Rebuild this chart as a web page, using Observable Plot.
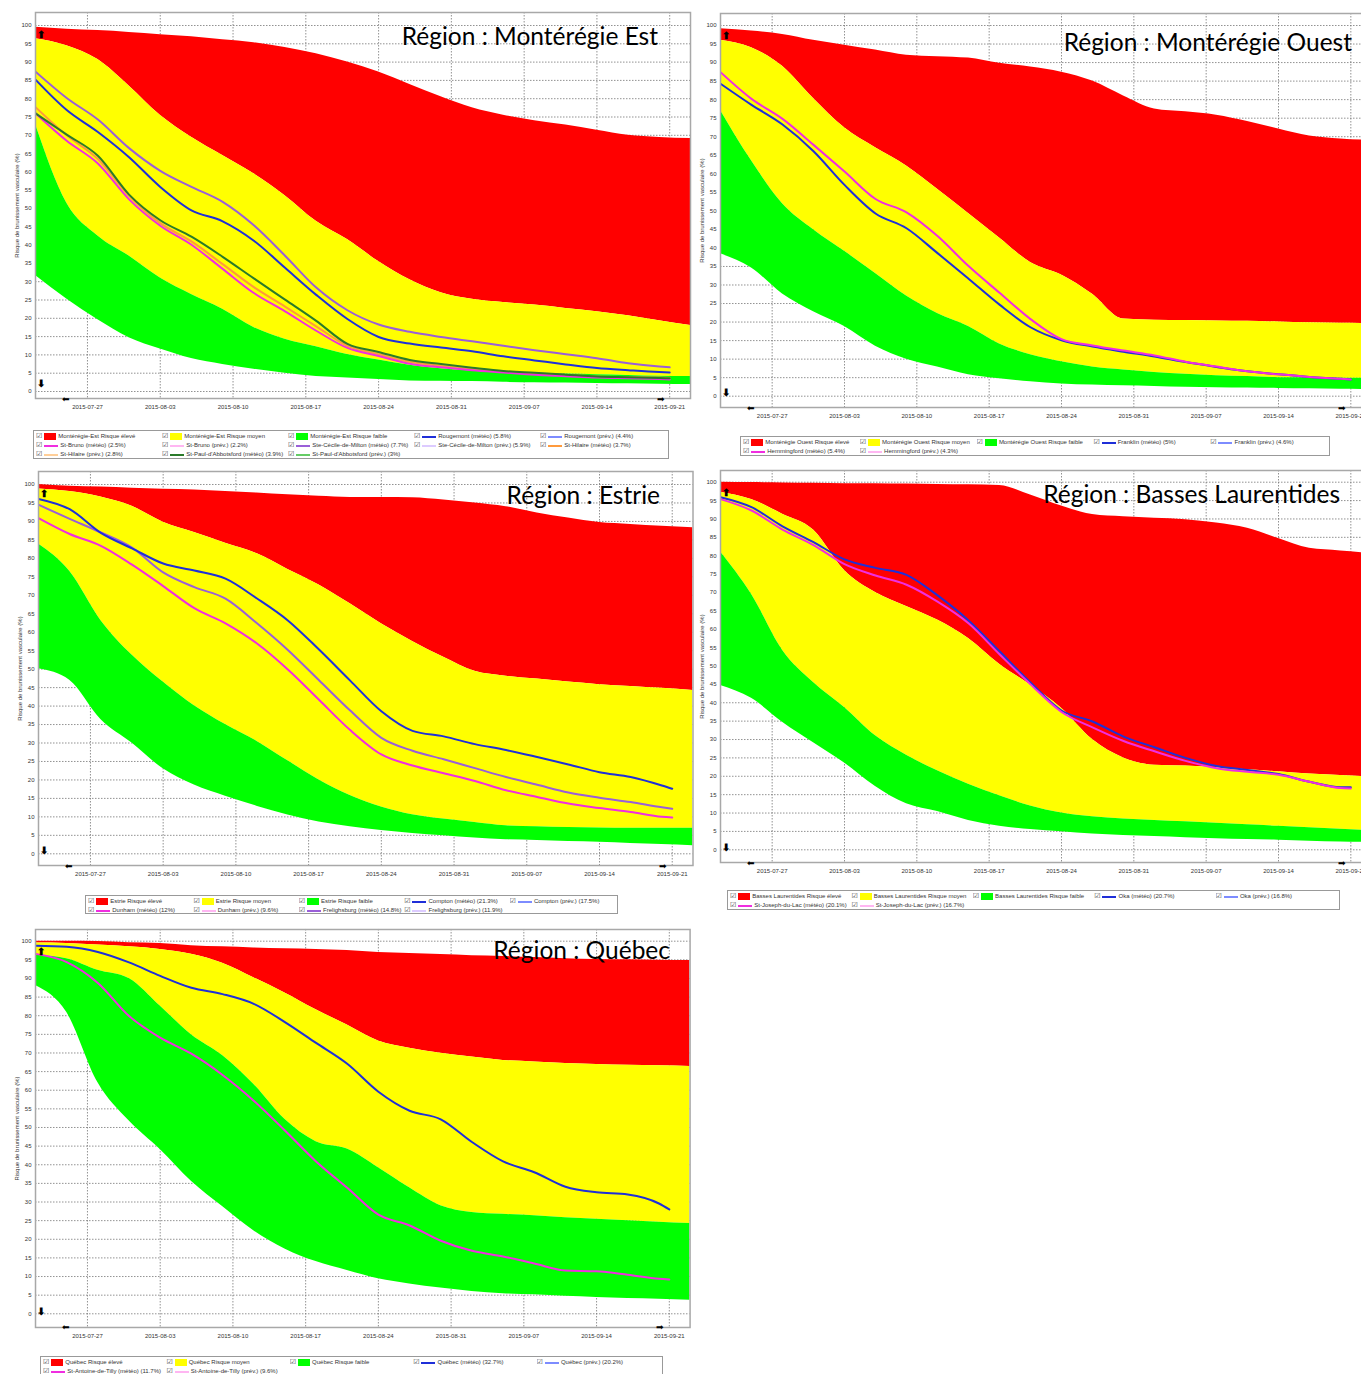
<!DOCTYPE html>
<html><head><meta charset="utf-8">
<script src="https://cdn.jsdelivr.net/npm/d3@7"></script>
<script src="https://cdn.jsdelivr.net/npm/@observablehq/plot@0.6"></script>
<style>
body{margin:0;background:#fff;}
#root{position:relative;width:1361px;height:1374px;overflow:hidden;background:#fff;font-family:"Liberation Sans",Arial,sans-serif;}
.title{position:absolute;font-family:Lato,"Open Sans",sans-serif;font-size:24.5px;line-height:28px;color:#000;white-space:nowrap;}
.legend{position:absolute;border:1px solid #999;box-sizing:border-box;display:grid;grid-template-columns:repeat(5,1fr);font-size:6px;line-height:9px;color:#333;padding:1px 2px;background:#fff;}
.item{display:flex;align-items:center;white-space:nowrap;overflow:hidden;height:9px;}
.chk{font-family:"DejaVu Sans";font-size:7px;margin-right:2px;color:#444}
.sw{display:inline-block;width:12px;height:7px;margin-right:2px}
.ln{display:inline-block;width:14px;height:2px;margin-right:2px}
</style></head><body><div id="root"></div><script>
// ---------- shared axes ----------
const areaDates = ["2015-07-22","2015-07-25","2015-07-28","2015-07-31","2015-08-03","2015-08-06","2015-08-09","2015-08-12","2015-08-15","2015-08-18","2015-08-21","2015-08-24","2015-08-27","2015-08-30","2015-09-02","2015-09-05","2015-09-08","2015-09-11","2015-09-14","2015-09-17","2015-09-20","2015-09-23"];
const lineDates = ["2015-07-22","2015-07-25","2015-07-28","2015-07-31","2015-08-03","2015-08-06","2015-08-09","2015-08-12","2015-08-15","2015-08-18","2015-08-21","2015-08-24","2015-08-27","2015-08-30","2015-09-02","2015-09-05","2015-09-08","2015-09-11","2015-09-14","2015-09-17","2015-09-20","2015-09-21"];
const xTickLabels = ["2015-07-27","2015-08-03","2015-08-10","2015-08-17","2015-08-24","2015-08-31","2015-09-07","2015-09-14","2015-09-21"];
const yTickValues = [0,5,10,15,20,25,30,35,40,45,50,55,60,65,70,75,80,85,90,95,100];
const yAxisLabel = "Risque de brunissement vasculaire (%)";

// ---------- Montérégie Est ----------
const estRedTop = [99.5,99.0,98.6,98.1,97.5,96.9,96.1,95.3,94.0,92.3,90.0,87.3,83.9,80.5,77.5,75.5,74.0,72.8,71.4,70.0,69.4,69.1];
const estYellowTop = [96.4,94.5,90.7,83.5,75.5,69.5,64.5,59.5,53.5,46.5,41.5,35.5,30.5,27.0,25.2,24.3,23.6,22.7,21.8,20.7,19.3,18.0];
const estGreenTop = [73,51.5,42.5,37,31,26.5,22.5,17.5,14.3,12.2,10.1,8.6,7.2,6.2,5.6,5.2,5.0,4.8,4.6,4.4,4.2,4.1];
const estGreenBottom = [31.7,25.3,19.6,14.7,11.6,9.0,7.4,6.1,5.0,4.1,3.7,3.3,2.9,2.8,2.7,2.5,2.4,2.3,2.2,2.1,2.0,1.9];
const estRougemont = [85.2,76.9,70.9,64.0,55.9,49.5,46.5,41.2,33.8,26.4,19.8,14.9,13.1,12.0,11.0,9.6,8.5,7.4,6.4,5.8,5.3,5.2];
const estSteCecile = [87.4,80.2,74.3,66.5,60.3,55.9,51.8,45.4,37.1,28.4,22.2,18.3,16.3,14.9,13.7,12.5,11.3,10.2,9.1,7.7,6.8,6.6];
const estStPaul = [76,70.2,64.4,53.8,46.8,42.3,36.8,30.9,25.1,19.3,13.0,10.8,8.6,7.5,6.5,5.6,5.1,4.6,4.1,3.9,3.7,3.6];
const estStBruno = [76,68.5,62.3,52.5,45.3,40.1,33.5,26.9,21.9,16.6,11.9,9.7,7.6,6.6,5.8,5.2,4.6,4.2,3.8,3.6,3.4,3.3];
const estStHilaire = [77.7,70.0,63.5,53.5,46.0,41.0,34.8,28.5,23.2,17.8,12.5,10.2,8.1,7.0,6.1,5.4,4.9,4.5,4.1,3.9,3.8,3.7];
const estLegend = ["Montérégie-Est Risque élevé","Montérégie-Est Risque moyen","Montérégie-Est Risque faible","Rougemont (météo) (5.8%)","Rougemont (prév.) (4.4%)","St-Bruno (météo) (2.5%)","St-Bruno (prév.) (2.2%)","Ste-Cécile-de-Milton (météo) (7.7%)","Ste-Cécile-de-Milton (prév.) (5.9%)","St-Hilaire (météo) (3.7%)","St-Hilaire (prév.) (2.8%)","St-Paul-d'Abbotsford (météo) (3.9%)","St-Paul-d'Abbotsford (prév.) (3%)"];

// ---------- Montérégie Ouest ----------
const ouestRedTop = [99.1,98.5,97.6,96.0,94.7,93.4,92.0,91.6,91.2,89.8,88.8,87.4,85.0,81.0,77.5,76.7,75.8,74.1,72.1,70.2,69.4,69.0];
const ouestYellowTop = [96,94.0,89.0,80.3,72.4,67.0,62.1,55.8,49.3,42.7,36.1,32.7,27.5,20.8,20.5,20.4,20.3,20.2,20.0,19.8,19.7,19.6];
const ouestGreenTop = [77.1,63.5,51.9,44.9,39.1,33.1,27.0,22.3,18.8,14.1,11.2,9.3,7.9,7.1,6.4,5.9,5.5,5.3,5.0,4.95,4.85,4.8];
const ouestGreenBottom = [38.4,34.6,27.6,22.8,18.8,13.5,10.0,7.9,5.8,4.7,3.9,3.3,3.0,2.8,2.6,2.4,2.3,2.2,2.1,2.0,1.9,1.8];
const ouestFranklin = [84.3,78.6,73.3,66.1,57.0,49.3,45.3,38.6,31.7,24.7,18.6,15.1,13.4,12.0,10.7,9.2,7.9,6.7,5.9,5.2,4.7,4.5];
const ouestHemmingford = [87.4,80.2,74.8,67.8,60.6,53.2,49.6,43.2,35.1,27.9,20.8,15.4,13.7,12.3,11.0,9.3,8.0,6.7,5.9,5.2,4.7,4.5];
const ouestLegend = ["Montérégie Ouest Risque élevé","Montérégie Ouest Risque moyen","Montérégie Ouest Risque faible","Franklin (météo) (5%)","Franklin (prév.) (4.6%)","Hemmingford (météo) (5.4%)","Hemmingford (prév.) (4.3%)"];

// ---------- Estrie ----------
const estrieRedTop = [100,99.5,99.3,99.0,98.7,98.5,98.1,97.7,97.2,96.8,96.5,96.5,96.4,95.8,95.0,94.0,92.3,90.9,89.7,89.2,88.7,88.3];
const estrieYellowTop = [98.8,98.1,96.6,94.1,89.8,87.0,84.1,81.3,77.0,72.8,67.7,62.3,57.5,53.2,49.4,48.1,47.3,46.5,45.8,45.3,44.8,44.2];
const estrieGreenTop = [83.9,76.5,63.2,53.8,46.5,40.1,35.0,30.5,25.2,20.0,15.8,12.7,10.6,9.4,8.5,7.6,7.3,7.1,7.0,6.9,6.9,6.9];
const estrieGreenBottom = [50.1,47.0,36.4,30.0,23.0,18.6,15.6,12.9,10.5,8.6,7.3,6.3,5.5,4.9,4.3,3.8,3.6,3.3,3.1,2.8,2.5,2.2];
const estrieCompton = [96.1,93.3,86.9,82.7,78.6,76.7,74.5,69.2,63.2,55.3,46.9,38.6,33.3,31.8,29.7,28.1,26.2,24.2,22.1,20.8,18.5,17.6];
const estrieFrelighsburg = [94.5,90.7,87.0,82.9,76.2,72.2,69.1,62.5,55.2,47.0,38.8,31.4,27.9,25.6,23.2,20.8,18.7,16.6,15.2,14.0,12.6,12.2];
const estrieDunham = [90.9,86.6,83.4,78.3,72.5,66.5,62.4,57.0,49.9,41.7,33.5,26.9,23.9,21.8,19.7,17.2,15.4,13.6,12.4,11.3,10.0,9.8];
const estrieLegend = ["Estrie Risque élevé","Estrie Risque moyen","Estrie Risque faible","Compton (météo) (21.3%)","Compton (prév.) (17.5%)","Dunham (météo) (12%)","Dunham (prév.) (9.6%)","Frelighsburg (météo) (14.8%)","Frelighsburg (prév.) (11.9%)"];

// ---------- Basses Laurentides ----------
const lauRedTop = [100,99.9,99.8,99.7,99.6,99.6,99.5,99.4,99.3,99.1,96.5,93.5,91.2,90.6,90.2,89.8,88.9,87.5,84.7,82.0,81.3,80.6];
const lauYellowTop = [97.3,95.3,91.3,87.0,76.0,70.0,66.2,62.5,57.5,50.5,44.8,38.5,30.0,25.0,23.0,22.8,22.3,21.8,21.2,20.6,20.2,19.8];
const lauGreenTop = [81,69.5,54.3,45.5,38.7,31.0,25.7,21.5,17.8,14.7,11.9,10.0,9.0,8.4,8.0,7.6,7.2,6.8,6.4,6.0,5.6,5.2];
const lauGreenBottom = [44.7,41.2,34.7,29.1,23.6,17.2,12.5,10.4,8.0,6.4,5.5,4.9,4.3,3.9,3.6,3.3,3.0,2.8,2.6,2.3,2.1,2.0];
const lauOka = [95.9,93.2,88.0,83.7,79.0,76.7,74.8,69.2,62.4,54.0,45.5,37.9,34.9,30.8,27.9,25.0,22.8,21.7,20.6,18.5,17.0,17.0];
const lauStJoseph = [95.4,92.3,87.1,82.9,77.7,74.6,72.1,67.5,61.6,53.2,45.0,37.5,33.3,29.6,26.8,24.2,22.2,21.2,20.4,18.5,16.8,16.7];
const lauLegend = ["Basses Laurentides Risque élevé","Basses Laurentides Risque moyen","Basses Laurentides Risque faible","Oka (météo) (20.7%)","Oka (prév.) (16.8%)","St-Joseph-du-Lac (météo) (20.1%)","St-Joseph-du-Lac (prév.) (16.7%)"];

// ---------- Québec ----------
const qcRedTop = [100,100,99.9,99.6,99.4,98.8,98.5,98.2,98.0,97.8,97.5,97.0,96.7,96.4,96.1,95.9,95.6,95.3,95.1,95.0,94.9,94.8];
const qcYellowTop = [99.5,99.4,99.0,98.5,97.8,96.5,94.1,90.2,86.1,81.6,77.5,73.2,71.3,69.9,68.9,68.0,67.6,67.2,66.9,66.7,66.6,66.4];
const qcGreenTop = [96.2,95.3,92.2,90.0,82.6,74.9,69.3,61.6,52.2,46.2,44.2,39.2,33.8,29.0,27.2,26.7,26.3,25.8,25.4,25.0,24.6,24.2];
const qcGreenBottom = [88.1,80.9,62.1,51.8,44.1,35.6,28.8,22.3,17.4,14.0,11.6,9.4,8.0,6.9,6.0,5.4,5.1,4.7,4.4,4.1,3.9,3.6];
const qcQuebec = [98.8,98.5,97.1,94.3,90.7,87.5,85.8,83.2,78.3,72.7,67.1,59.6,54.5,52.2,46.1,40.9,38.0,34.1,32.6,32.0,29.6,28.0];
const qcStAntoine = [96.6,94.4,88.8,79.9,74.1,69.8,64.1,57.2,49.2,40.9,33.8,26.6,23.7,19.6,16.9,15.4,13.5,11.6,11.4,10.5,9.4,9.2];
const qcLegend = ["Québec Risque élevé","Québec Risque moyen","Québec Risque faible","Québec (météo) (32.7%)","Québec (prév.) (20.2%)","St-Antoine-de-Tilly (météo) (11.7%)","St-Antoine-de-Tilly (prév.) (9.6%)"];

// ---------- styles ----------
const C = {red:"#ff0000", yellow:"#ffff00", green:"#00ff00", blue:"#1f2fd8", lblue:"#7d8cff", mag:"#f02ee0", lmag:"#ffb6f2", purple:"#9a5fd8", lpurple:"#dccbff", orange:"#ff9a3c", lorange:"#ffcf99", dgreen:"#2a7a2a", lgreen:"#66cc66"};

const panels = [
  {title:"Région : Montérégie Est", L:{x0:35,x1:690,yTop:12,yBottom:398,y100:25,y0:391},
   titlePos:{right:658, cy:36}, legendPos:{left:33,top:430,width:636,height:29},
   bands:[estRedTop,estYellowTop,estGreenTop,estGreenBottom],
   lines:[[estStHilaire,C.orange],[estStBruno,C.mag],[estStPaul,C.dgreen],[estSteCecile,C.purple],[estRougemont,C.blue]],
   legend:estLegend, legendColors:[C.red,C.yellow,C.green,C.blue,C.lblue,C.mag,C.lmag,C.purple,C.lpurple,C.orange,C.lorange,C.dgreen,C.lgreen]},
  {title:"Région : Montérégie Ouest", L:{x0:720,x1:1371,yTop:13,yBottom:407,y100:25,y0:395.7},
   titlePos:{right:1352, cy:42}, legendPos:{left:740,top:436,width:590,height:20},
   bands:[ouestRedTop,ouestYellowTop,ouestGreenTop,ouestGreenBottom],
   lines:[[ouestFranklin,C.blue],[ouestHemmingford,C.mag]],
   legend:ouestLegend, legendColors:[C.red,C.yellow,C.green,C.blue,C.lblue,C.mag,C.lmag]},
  {title:"Région : Estrie", L:{x0:37.5,x1:692,yTop:471,yBottom:865,y100:484,y0:853.3},
   titlePos:{right:660, cy:495}, legendPos:{left:85,top:895,width:533,height:19},
   bands:[estrieRedTop,estrieYellowTop,estrieGreenTop,estrieGreenBottom],
   lines:[[estrieDunham,C.mag],[estrieFrelighsburg,C.purple],[estrieCompton,C.blue]],
   legend:estrieLegend, legendColors:[C.red,C.yellow,C.green,C.blue,C.lblue,C.mag,C.lmag,C.purple,C.lpurple]},
  {title:"Région : Basses Laurentides", L:{x0:720,x1:1371,yTop:470,yBottom:862,y100:481.7,y0:849.3},
   titlePos:{right:1340, cy:494}, legendPos:{left:727,top:890,width:613,height:20},
   bands:[lauRedTop,lauYellowTop,lauGreenTop,lauGreenBottom],
   lines:[[lauOka,C.blue],[lauStJoseph,C.mag]],
   legend:lauLegend, legendColors:[C.red,C.yellow,C.green,C.blue,C.lblue,C.mag,C.lmag]},
  {title:"Région : Québec", L:{x0:34.8,x1:689.4,yTop:929,yBottom:1327,y100:940.7,y0:1313.3},
   titlePos:{right:670, cy:950}, legendPos:{left:40,top:1356,width:623,height:20},
   bands:[qcRedTop,qcYellowTop,qcGreenTop,qcGreenBottom],
   lines:[[qcQuebec,C.blue],[qcStAntoine,C.mag]],
   legend:qcLegend, legendColors:[C.red,C.yellow,C.green,C.blue,C.lblue,C.mag,C.lmag]}
];

const root = document.getElementById("root");
const xDomain = [new Date("2015-07-22"), new Date("2015-09-23")];
const xTicks = xTickLabels.map(d => new Date(d));
const fmt = d3.utcFormat("%Y-%m-%d");
const curve = "monotone-x";

for (const p of panels) {
  const L = p.L, mL = 40, mR = 4, mT = 4, mB = 22;
  const ppu = (L.y0 - L.y100) / 100;
  const yMin = -(L.yBottom - L.y0) / ppu, yMax = 100 + (L.y100 - L.yTop) / ppu;
  const [rt, yt, gt, gb] = p.bands;
  const rows = areaDates.map((d, i) => ({date: new Date(d), red: rt[i], yellow: yt[i], gTop: gt[i], gBot: gb[i]}));
  const lineMarks = p.lines.map(([vals, color]) =>
    Plot.line(lineDates.map((d, i) => ({date: new Date(d), v: vals[i]})), {x: "date", y: "v", stroke: color, strokeWidth: 2, curve, clip: true}));
  const svg = Plot.plot({
    width: (L.x1 - L.x0) + mL + mR, height: (L.yBottom - L.yTop) + mT + mB,
    marginLeft: mL, marginRight: mR, marginTop: mT, marginBottom: mB,
    x: {type: "utc", domain: xDomain},
    y: {domain: [yMin, yMax]},
    style: {background: "transparent", fontFamily: "Liberation Sans, Arial, sans-serif", fontSize: "6px", color: "#333", overflow: "visible"},
    marks: [
      Plot.gridY(yTickValues, {stroke: "#777", strokeOpacity: 0.8, strokeDasharray: "1.5,1.5"}),
      Plot.gridX(xTicks, {stroke: "#777", strokeOpacity: 0.8, strokeDasharray: "1.5,1.5"}),
      Plot.areaY(rows, {x: "date", y1: "yellow", y2: "red", fill: C.red, curve, clip: true}),
      Plot.areaY(rows, {x: "date", y1: "gTop", y2: "yellow", fill: C.yellow, curve, clip: true}),
      Plot.areaY(rows, {x: "date", y1: "gBot", y2: "gTop", fill: C.green, curve, clip: true}),
      ...lineMarks,
      Plot.axisY(yTickValues, {tickSize: 0, tickPadding: 4, label: null, fontSize: 6}),
      Plot.axisX(xTicks, {tickSize: 0, tickPadding: 6, tickFormat: fmt, label: null, fontSize: 6}),
      Plot.frame({stroke: "#a8a8a8", strokeWidth: 1.5}),
      Plot.text([yAxisLabel], {frameAnchor: "left", textAnchor: "middle", rotate: -90, dx: -18, fontSize: 6, fill: "#333"}),
      Plot.text(["⬆"], {frameAnchor: "top-left", dy: 18, dx: 1, fontSize: 10, fill: "#000", fontWeight: "bold"}),
      Plot.text(["⬇"], {frameAnchor: "bottom-left", dy: -12, dx: 1, fontSize: 10, fill: "#000", fontWeight: "bold"}),
      Plot.text(["⬅"], {frameAnchor: "bottom-left", dy: 3, dx: 26, fontSize: 9, fill: "#000"}),
      Plot.text(["➡"], {frameAnchor: "bottom-right", dy: 3, dx: -26, fontSize: 9, fill: "#000"})
    ]
  });
  svg.style.position = "absolute";
  svg.style.left = (L.x0 - mL) + "px";
  svg.style.top = (L.yTop - mT) + "px";
  svg.style.maxWidth = "none";
  root.appendChild(svg);

  const t = document.createElement("div");
  t.className = "title";
  t.textContent = p.title;
  t.style.right = (1361 - p.titlePos.right) + "px";
  t.style.top = (p.titlePos.cy - 14) + "px";
  root.appendChild(t);

  const lg = document.createElement("div");
  lg.className = "legend";
  Object.assign(lg.style, {left: p.legendPos.left + "px", top: p.legendPos.top + "px", width: p.legendPos.width + "px", height: p.legendPos.height + "px"});
  p.legend.forEach((label, i) => {
    const it = document.createElement("div");
    it.className = "item";
    const chk = document.createElement("span"); chk.className = "chk"; chk.textContent = "☑";
    const sw = document.createElement("span"); sw.className = i < 3 ? "sw" : "ln"; sw.style.background = p.legendColors[i];
    const tx = document.createElement("span"); tx.textContent = label;
    it.append(chk, sw, tx);
    lg.appendChild(it);
  });
  root.appendChild(lg);
}
</script></body></html>
